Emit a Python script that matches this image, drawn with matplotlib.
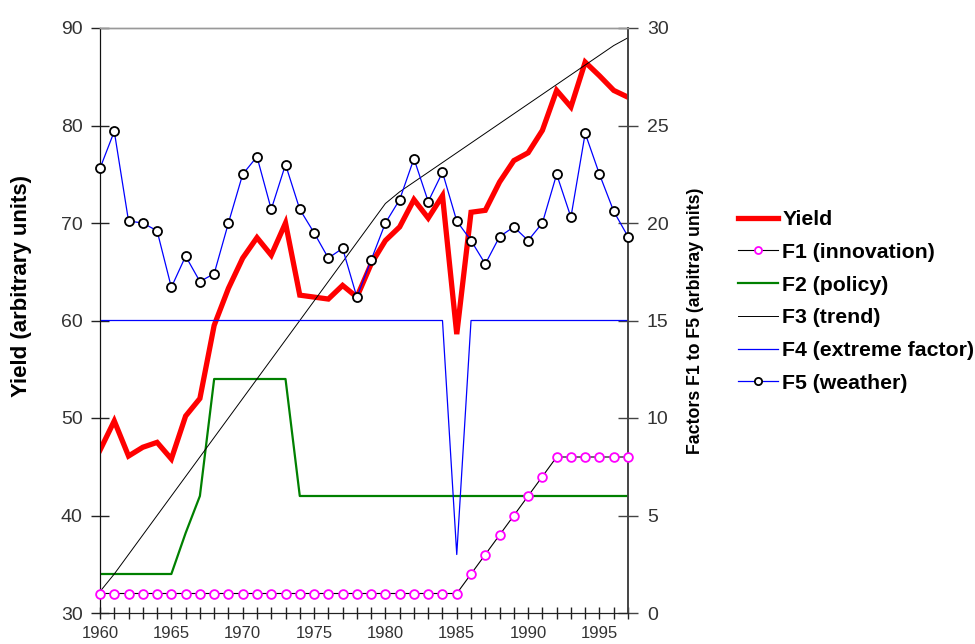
import matplotlib
matplotlib.use("Agg")
import matplotlib.pyplot as plt
from matplotlib.ticker import MultipleLocator

plt.rcParams['font.family'] = ['Liberation Sans', 'DejaVu Sans']

years = list(range(1960, 1998))

yield_vals = [46.7, 49.7, 46.1, 47.0, 47.5, 45.8, 50.2, 52.0, 59.5, 63.3,
              66.4, 68.5, 66.7, 70.0, 62.6, 62.4, 62.2, 63.6, 62.4, 65.8,
              68.2, 69.6, 72.4, 70.5, 72.8, 58.6, 71.1, 71.3, 74.2, 76.4,
              77.2, 79.5, 83.6, 81.9, 86.5, 85.1, 83.6, 82.9]

f1_innovation = [1]*26 + [2, 3, 4, 5, 6, 7] + [8]*6

f2_policy = [2, 2, 2, 2, 2, 2, 4.1, 6.0, 12, 12, 12, 12, 12, 12] + [6]*24

f3_trend = [1.1, 2, 3, 4, 5, 6, 7, 8, 9, 10, 11, 12, 13, 14, 15, 16, 17, 18, 19, 20,
            21.0, 21.6, 22.1, 22.6, 23.1, 23.6, 24.1, 24.6, 25.1, 25.6, 26.1,
            26.6, 27.1, 27.6, 28.1, 28.6, 29.1, 29.5]

f4_extreme = [15]*25 + [3.0] + [15]*12

f5_weather = [22.8, 24.7, 20.1, 20.0, 19.6, 16.7, 18.3, 17.0, 17.4, 20.0,
              22.5, 23.4, 20.7, 23.0, 20.7, 19.5, 18.2, 18.7, 16.2, 18.1,
              20.0, 21.2, 23.3, 21.1, 22.6, 20.1, 19.1, 17.9, 19.3, 19.8,
              19.1, 20.0, 22.5, 20.3, 24.6, 22.5, 20.6, 19.3]

fig = plt.figure(figsize=(9.75, 6.44), dpi=100)
ax = fig.add_axes([100/975, 1-613/644, 528/975, 585/644])
ax2 = ax.twinx()

l_yield, = ax.plot(years, yield_vals, color='#ff0000', lw=3.8, label='Yield',
                   solid_joinstyle='miter', zorder=3)

l_f2, = ax2.plot(years, f2_policy, color='#008000', lw=1.6, label='F2 (policy)', zorder=2)
l_f3, = ax2.plot(years, f3_trend, color='black', lw=0.7, label='F3 (trend)', zorder=2)
l_f4, = ax2.plot(years, f4_extreme, color='#0000ff', lw=0.9, label='F4 (extreme factor)', zorder=2)
l_f1, = ax2.plot(years, f1_innovation, color='black', lw=0.8, marker='o', ms=6.3,
                 mfc='white', mec='#ff00ff', mew=1.3, label='F1 (innovation)', zorder=4,
                 clip_on=False)
l_f5, = ax2.plot(years, f5_weather, color='#0000ff', lw=0.9, marker='o', ms=6.5,
                 mfc='white', mec='black', mew=1.3, label='F5 (weather)', zorder=4,
                 clip_on=False)

ax.set_xlim(1960, 1997)
ax.set_ylim(30, 90)
ax2.set_ylim(0, 30)

ax.xaxis.set_major_locator(MultipleLocator(5))
ax.xaxis.set_minor_locator(MultipleLocator(1))
ax.yaxis.set_major_locator(MultipleLocator(10))
ax2.yaxis.set_major_locator(MultipleLocator(5))

tick_color = '#333333'
ax.tick_params(axis='x', which='both', direction='inout', length=9, width=1,
               color='#222222', labelsize=12, labelcolor=tick_color, pad=5)
ax.tick_params(axis='y', which='major', direction='inout', length=13, width=1,
               color='#222222', labelsize=14, labelcolor=tick_color, pad=6)
ax2.tick_params(axis='y', which='major', direction='inout', length=15, width=1,
                color='#444444', labelsize=14, labelcolor=tick_color, pad=6)

for a in (ax, ax2):
    a.spines['top'].set_color('#999999')
    a.spines['top'].set_linewidth(1)
    a.spines['left'].set_color('#111111')
    a.spines['bottom'].set_color('#222222')
    a.spines['right'].set_color('#444444')
    a.spines['right'].set_linewidth(1.2)

fig.text(22/975, 1-286/644, 'Yield (arbitrary units)', fontsize=16, fontweight='bold',
         rotation=90, ha='center', va='center')
fig.text(695/975, 1-320.5/644, 'Factors F1 to F5 (arbitray units)', fontsize=12.8,
         fontweight='bold', rotation=90, ha='center', va='center')

handles = [l_yield, l_f1, l_f2, l_f3, l_f4, l_f5]
fig.legend(handles=handles, labels=[h.get_label() for h in handles],
           loc='center left', bbox_to_anchor=(0.7375, 0.532), frameon=False,
           prop={'size': 15.3, 'weight': 'bold'}, handlelength=1.88,
           handletextpad=0.19, labelspacing=0.645, markerscale=0.8)

fig.savefig('out.png', dpi=100)
